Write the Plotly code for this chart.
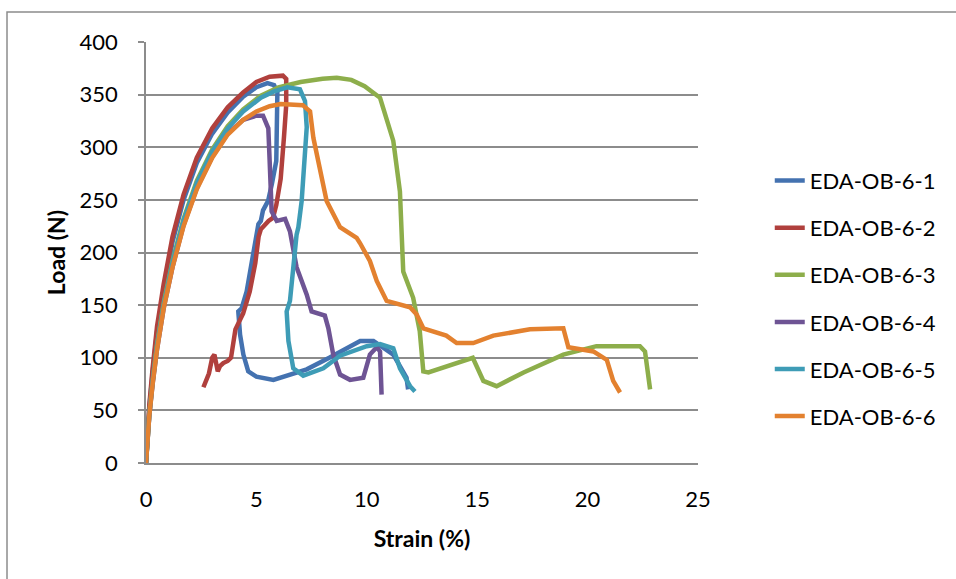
import plotly.graph_objects as go

names = ["EDA-OB-6-1", "EDA-OB-6-2", "EDA-OB-6-3", "EDA-OB-6-4", "EDA-OB-6-5", "EDA-OB-6-6"]
colors = ["#4472B0", "#B0403D", "#8DAE4B", "#6E5494", "#3E9CB6", "#E3812F"]

strain_1 = [0, 0.05, 0.15, 0.3, 0.5, 0.8, 1.2, 1.7, 2.3, 3.0, 3.7, 4.4, 5.0, 5.5, 5.8, 5.95, 5.92, 5.9, 5.7, 5.53,
            5.3, 5.2, 5.09, 4.86, 4.56, 4.33, 4.18, 4.26, 4.41, 4.63, 5.0, 5.77, 6.5, 7.28, 8.3, 9.2, 9.7, 10.3,
            11.2, 11.8, 11.87]
load_1 = [0, 23, 52, 86, 125, 165, 210, 250, 285, 313, 333, 348, 357, 361, 359, 352, 320, 287, 265, 249,
          240, 230, 227, 201, 163, 147, 144, 122, 103, 87, 82, 79, 84, 89, 100, 111, 116, 116,
          103, 81, 70]

strain_2 = [0, 0.05, 0.15, 0.3, 0.5, 0.8, 1.2, 1.7, 2.3, 3.0, 3.7, 4.4, 5.0, 5.6, 6.2, 6.35, 6.35, 6.25, 6.1,
            5.9, 5.75, 5.55, 5.2, 5.1, 4.95, 4.7, 4.4, 4.05, 3.95, 3.85, 3.7, 3.5, 3.35, 3.25, 3.1, 3.0,
            2.85, 2.6]
load_2 = [0, 25, 55, 90, 130, 170, 215, 255, 290, 318, 338, 352, 362, 367, 368, 365, 340, 310, 270,
          245, 233, 230, 222, 215, 190, 163, 142, 127, 115, 100, 97, 95, 92, 87, 103, 100,
          85, 72]

strain_3 = [0, 0.05, 0.15, 0.3, 0.5, 0.8, 1.2, 1.7, 2.3, 3.0, 3.7, 4.4, 5.2, 6.0, 7.0, 8.0, 8.64, 9.3, 9.9,
            10.6, 11.2, 11.5, 11.65, 12.1, 12.4, 12.56, 12.79, 14.8, 15.28, 15.88, 17.1, 18.9, 20.4,
            22.37, 22.6, 22.83]
load_3 = [0, 20, 47, 78, 113, 152, 192, 232, 268, 298, 320, 336, 349, 357, 362, 365, 366, 364, 358,
          347, 306, 258, 182, 157, 125, 87, 86, 100, 78, 73, 86, 103, 111,
          111, 106, 70]

strain_4 = [0, 0.05, 0.15, 0.3, 0.5, 0.8, 1.2, 1.7, 2.3, 3.0, 3.7, 4.4, 5.0, 5.3, 5.54, 5.6, 5.69, 5.92, 6.3,
            6.52, 6.82, 7.28, 7.5, 8.1, 8.26, 8.48, 8.79, 9.24, 9.84, 10.14, 10.45, 10.6, 10.67]
load_4 = [0, 19, 45, 75, 108, 147, 186, 226, 261, 291, 313, 326, 330, 330, 318, 287, 239, 230, 232,
          220, 186, 160, 144, 140, 128, 103, 84, 79, 81, 103, 110, 106, 65]

strain_5 = [0, 0.05, 0.15, 0.3, 0.5, 0.8, 1.2, 1.7, 2.3, 3.0, 3.7, 4.4, 5.2, 5.8, 6.4, 6.97, 7.2, 7.28, 7.05,
            6.9, 6.82, 6.52, 6.37, 6.45, 6.67, 7.12, 8.03, 8.79, 10.0, 10.6, 11.2, 11.5, 11.96, 12.18]
load_5 = [0, 20, 46, 77, 111, 150, 190, 230, 266, 296, 318, 334, 347, 353, 357, 355, 344, 319, 249,
          224, 217, 154, 144, 116, 90, 83, 90, 102, 111, 113, 109, 90, 73, 68]

strain_6 = [0, 0.05, 0.15, 0.3, 0.5, 0.8, 1.2, 1.7, 2.3, 3.0, 3.7, 4.4, 5.0, 5.6, 6.1, 7.1, 7.43, 7.58, 7.88,
            8.18, 8.79, 9.54, 9.69, 10.14, 10.45, 10.9, 11.96, 12.26, 12.56, 13.6, 14.07, 14.82, 15.73,
            17.39, 18.9, 19.13, 20.26, 20.87, 21.16, 21.47]
load_6 = [0, 19, 45, 75, 108, 147, 186, 225, 260, 290, 312, 326, 334, 339, 341, 340, 334, 309, 277,
          249, 224, 214, 209, 192, 173, 154, 148, 141, 128, 121, 114, 114, 121,
          127, 128, 110, 106, 98, 78, 67]

series_x = [strain_1, strain_2, strain_3, strain_4, strain_5, strain_6]
series_y = [load_1, load_2, load_3, load_4, load_5, load_6]

x_ticks = [0, 5, 10, 15, 20, 25]
y_ticks = [0, 50, 100, 150, 200, 250, 300, 350, 400]

FONT = "Lato, 'Open Sans', sans-serif"
GRID = "#8C8C8C"

fig = go.Figure()
for i, (name, xs, ys) in enumerate(zip(names, series_x, series_y)):
    fig.add_trace(go.Scatter(
        x=xs, y=ys, mode="lines", name=name, legendgroup=name,
        line=dict(color=colors[i], width=4.5),
    ))

fig.update_layout(
    width=956, height=579,
    margin=dict(l=146, r=258, t=42, b=116),
    paper_bgcolor="white", plot_bgcolor="white",
    font=dict(family=FONT, size=22, color="black"),
    legend=dict(
        x=1.13, xanchor="left", y=0.39, yanchor="middle",
        tracegroupgap=15.5, font=dict(size=22, family=FONT),
        bgcolor="rgba(0,0,0,0)",
    ),
    shapes=[dict(type="rect", xref="paper", yref="paper",
                 x0=-0.2518, x1=1.5, y0=-0.35, y1=1.0713,
                 line=dict(color="#8C8C8C", width=1.5), fillcolor="rgba(0,0,0,0)", layer="below")],
)

fig.update_xaxes(
    range=[0, 25], tickvals=x_ticks, showgrid=False, zeroline=False,
    showline=True, linecolor=GRID, linewidth=1.5, ticks="",
    ticklabelstandoff=16,
    tickfont=dict(size=22, family=FONT),
    title=dict(text="<b>Strain (%)</b>", font=dict(size=23, family=FONT), standoff=20),
)
fig.update_yaxes(
    range=[0, 400], tickvals=y_ticks, showgrid=True, gridcolor=GRID, gridwidth=1.5,
    zeroline=False, showline=True, linecolor=GRID, linewidth=1.5,
    ticks="outside", ticklen=6, tickcolor=GRID, tickwidth=1.5,
    ticklabelstandoff=16,
    tickfont=dict(size=22, family=FONT),
    title=dict(text="<b>Load (N)</b>", font=dict(size=23, family=FONT), standoff=8),
)

fig.write_html("out.html")
